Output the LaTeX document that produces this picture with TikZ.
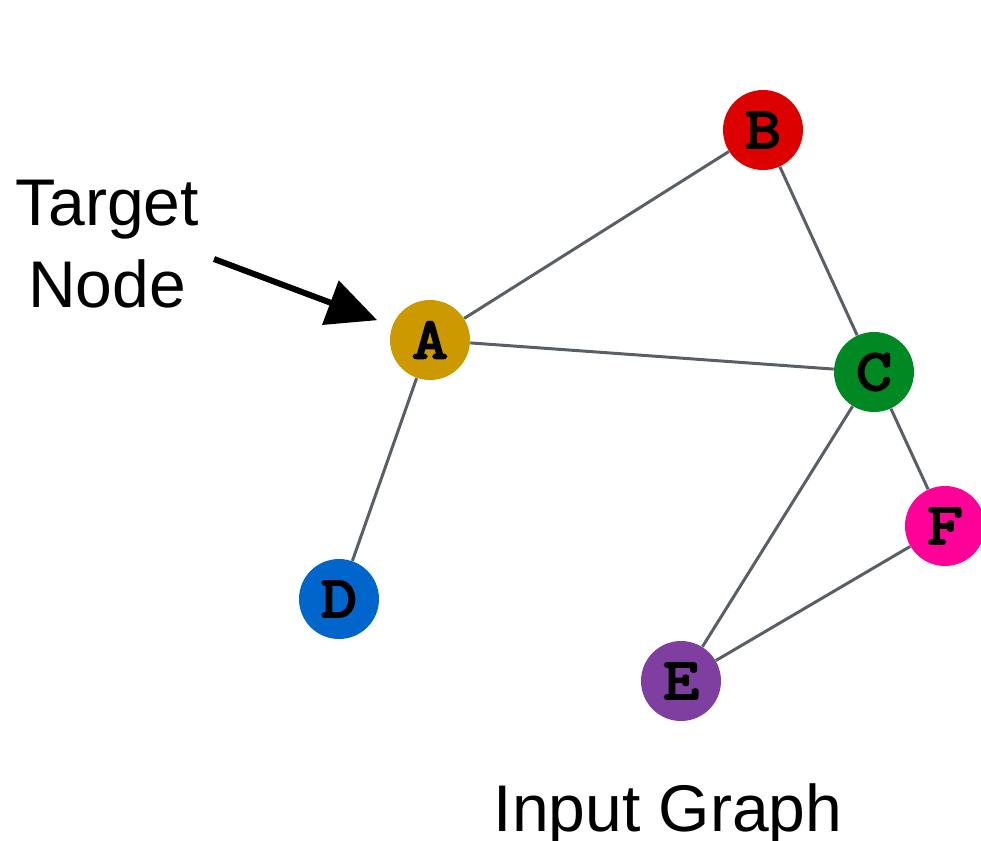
\documentclass[tikz,border=0pt]{standalone}
\usepackage{fontspec}
\setmainfont{Liberation Sans}
\newfontfamily\nodefont{Latin Modern Mono}[FakeBold=4,FakeStretch=1.2]
\usetikzlibrary{arrows.meta}

\definecolor{colA}{HTML}{CC9900}
\definecolor{colB}{HTML}{DD0000}
\definecolor{colC}{HTML}{008822}
\definecolor{colD}{HTML}{0066CC}
\definecolor{colE}{HTML}{7F3FA0}
\definecolor{colF}{HTML}{FF0099}
\definecolor{edgegray}{HTML}{5A5F66}

\tikzset{
  graphnode/.style={circle, minimum size=40pt, inner sep=0pt,
    font=\nodefont\fontsize{29}{29}\selectfont},
  graphedge/.style={draw=edgegray, line width=1.5pt},
  bigtext/.style={font=\fontsize{33}{41}\selectfont, align=center}
}

\begin{document}
\begin{tikzpicture}[x=0.5pt, y=-0.5pt]
\useasboundingbox (0,0) rectangle (981,841);

% graph nodes section
\node[graphnode, fill=colA] (nodeA) at (430,340) {A};
\node[graphnode, fill=colB] (nodeB) at (763,130) {B};
\node[graphnode, fill=colC] (nodeC) at (874,372) {C};
\node[graphnode, fill=colD] (nodeD) at (339,599) {D};
\node[graphnode, fill=colE] (nodeE) at (681,681) {E};
\node[graphnode, fill=colF] (nodeF) at (945,526) {F};

% edges section
\draw[graphedge] (nodeA) -- (nodeB);
\draw[graphedge] (nodeA) -- (nodeC);
\draw[graphedge] (nodeA) -- (nodeD);
\draw[graphedge] (nodeB) -- (nodeC);
\draw[graphedge] (nodeC) -- (nodeE);
\draw[graphedge] (nodeC) -- (nodeF);
\draw[graphedge] (nodeE) -- (nodeF);

% label section
\node[bigtext, anchor=base] (targetlabel) at (107,307) {Target\\Node};
\coordinate (arrowtail) at (214,259);
\draw[line width=3pt, -{Triangle[length=25pt, width=23pt]}, shorten >=8pt] (arrowtail) -- (nodeA);

\node[bigtext, anchor=base] (graphlabel) at (668,831) {Input Graph};

\end{tikzpicture}
\end{document}
